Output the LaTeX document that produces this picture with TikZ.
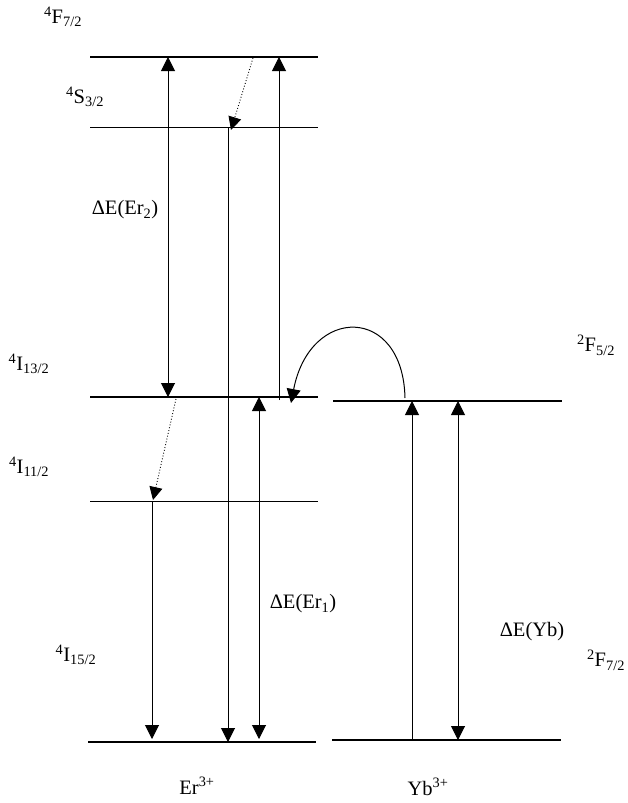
\documentclass[tikz,border=0pt]{standalone}
\usepackage{fontspec}
\setmainfont{Liberation Serif}
\usetikzlibrary{arrows.meta}
\begin{document}
\begin{tikzpicture}[x=1pt,y=-1pt,
  lvlthick/.style={line width=2.4pt},
  lvlthin/.style={line width=0.8pt},
  trans/.style={line width=1pt,-{Triangle[length=14pt,width=14pt]}},
  both/.style={line width=1pt,{Triangle[length=14pt,width=14pt]}-{Triangle[length=14pt,width=14pt]}},
  relax/.style={line width=0.9pt,dotted,-{Triangle[length=13pt,width=13pt]}},
  lbl/.style={inner sep=0pt,font=\fontsize{20.5}{24}\selectfont}]
\useasboundingbox (0,0) rectangle (627,803);
% levels
\draw[lvlthick] (90,57) coordinate (F72a) -- (318,57) coordinate (F72b);
\draw[lvlthin] (90,127) coordinate (S32a) -- (318,127) coordinate (S32b);
\draw[lvlthick] (90,397) coordinate (I13a) -- (318,397) coordinate (I13b);
\draw[lvlthin] (90,501) coordinate (I11a) -- (318,501) coordinate (I11b);
\draw[lvlthick] (88,742) coordinate (I15a) -- (316,742) coordinate (I15b);
\draw[lvlthick] (333,401) coordinate (Y5a) -- (562,401) coordinate (Y5b);
\draw[lvlthick] (332,740) coordinate (Y7a) -- (561,740) coordinate (Y7b);
% arrow end points
\coordinate (a1t) at (168,57);  \coordinate (a1b) at (168,397);
\coordinate (a2t) at (279,57);  \coordinate (a2b) at (279,400);
\coordinate (d1s) at (253,58);  \coordinate (d1e) at (231,130);
\coordinate (a3t) at (228,128); \coordinate (a3b) at (228,742);
\coordinate (a4t) at (259,397); \coordinate (a4b) at (259,739);
\coordinate (d2s) at (176,399); \coordinate (d2e) at (153,500);
\coordinate (a5t) at (152,502); \coordinate (a5b) at (152,739);
\coordinate (cs) at (405,398);  \coordinate (ce) at (291,403);
\coordinate (y1t) at (412,401); \coordinate (y1b) at (412,740);
\coordinate (y2t) at (458,401); \coordinate (y2b) at (458,740);
% transitions
\draw[both] (a1t) -- (a1b);
\draw[trans] (a2b) -- (a2t);
\draw[relax] (d1s) -- (d1e);
\draw[trans] (a3t) -- (a3b);
\draw[both] (a4t) -- (a4b);
\draw[relax] (d2s) -- (d2e);
\draw[trans] (a5t) -- (a5b);
\draw[trans] (cs) .. controls (403,305) and (310,305) .. (ce);
\draw[trans] (y1b) -- (y1t);
\draw[both] (y2t) -- (y2b);
% labels
\node[lbl] (lF) at (63,17) {\textsuperscript{4}F\textsubscript{7/2}};
\node[lbl] (lS) at (85,97) {\textsuperscript{4}S\textsubscript{3/2}};
\node[lbl] (lE2) at (125,210) {ΔE(Er\textsubscript{2})};
\node[lbl] (l13) at (29,364) {\textsuperscript{4}I\textsubscript{13/2}};
\node[lbl] (l11) at (29,467) {\textsuperscript{4}I\textsubscript{11/2}};
\node[lbl] (l15) at (76,655) {\textsuperscript{4}I\textsubscript{15/2}};
\node[lbl] (lE1) at (303,604) {ΔE(Er\textsubscript{1})};
\node[lbl] (lF5) at (596,345) {\textsuperscript{2}F\textsubscript{5/2}};
\node[lbl] (lEY) at (532,632) {ΔE(Yb)};
\node[lbl] (lF7) at (606,660) {\textsuperscript{2}F\textsubscript{7/2}};
\node[lbl] (lEr) at (197,786) {Er\textsuperscript{3+}};
\node[lbl] (lYb) at (428,787) {Yb\textsuperscript{3+}};
\end{tikzpicture}
\end{document}
